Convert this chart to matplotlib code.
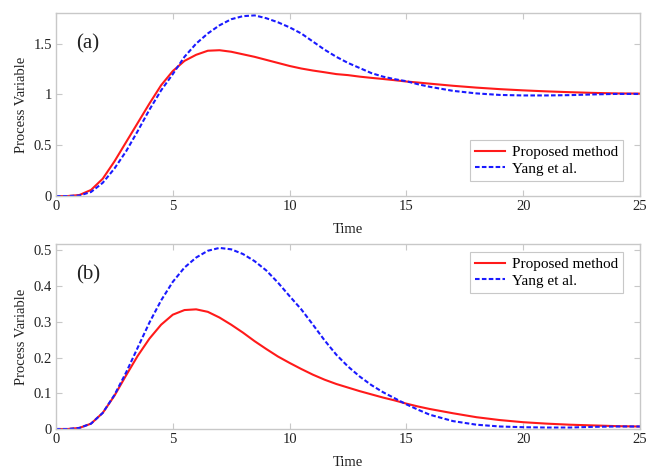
import matplotlib
matplotlib.use('Agg')
import matplotlib.pyplot as plt

plt.rcParams['font.family'] = ['Liberation Serif', 'DejaVu Serif']

# 时间轴（读图取样）
t = [0, 0.5, 1, 1.5, 2, 2.5, 3, 3.5, 4, 4.5, 5, 5.5, 6, 6.5, 7, 7.5, 8, 8.5, 9, 9.5,
     10, 10.5, 11, 11.5, 12, 12.5, 13, 13.5, 14, 14.5, 15, 15.5, 16,
     17, 18, 19, 20, 21, 22, 23, 24, 25]

# (a) 设定值响应
a_proposed = [0, 0, 0.01, 0.06, 0.17, 0.34, 0.53, 0.72, 0.91, 1.09, 1.23, 1.33, 1.39, 1.43, 1.435,
              1.42, 1.395, 1.37, 1.34, 1.31, 1.28, 1.255, 1.235, 1.218, 1.2, 1.19, 1.175, 1.163,
              1.152, 1.14, 1.127, 1.117, 1.106, 1.085, 1.067, 1.052, 1.04, 1.03, 1.022, 1.015,
              1.01, 1.008]
a_yang = [0, 0, 0.005, 0.04, 0.13, 0.27, 0.44, 0.64, 0.85, 1.04, 1.2, 1.37, 1.5, 1.6, 1.68, 1.74,
          1.77, 1.778, 1.75, 1.71, 1.66, 1.6, 1.52, 1.44, 1.37, 1.31, 1.26, 1.21, 1.175, 1.15,
          1.13, 1.1, 1.075, 1.035, 1.01, 0.995, 0.99, 0.99, 0.993, 1.0, 1.005, 1.005]

# (b) 扰动响应
b_proposed = [0, 0, 0.003, 0.015, 0.045, 0.093, 0.15, 0.205, 0.253, 0.292, 0.32, 0.333, 0.335,
              0.328, 0.312, 0.292, 0.27, 0.246, 0.224, 0.203, 0.185, 0.168, 0.152, 0.138, 0.126,
              0.116, 0.106, 0.097, 0.088, 0.08, 0.071, 0.063, 0.056, 0.044, 0.033, 0.025, 0.019,
              0.015, 0.012, 0.01, 0.008, 0.007]
b_yang = [0, 0, 0.003, 0.015, 0.045, 0.095, 0.158, 0.228, 0.298, 0.36, 0.412, 0.452, 0.48, 0.499,
          0.507, 0.503, 0.49, 0.47, 0.444, 0.41, 0.372, 0.335, 0.292, 0.248, 0.208, 0.175, 0.147,
          0.123, 0.103, 0.086, 0.069, 0.054, 0.04, 0.022, 0.012, 0.007, 0.005, 0.004, 0.004,
          0.006, 0.007, 0.007]

edge = '#c8c8c8'

fig = plt.figure(figsize=(6.58, 4.69), dpi=100)
ax1 = fig.add_axes([0.0851, 0.582, 0.8875, 0.390])
ax2 = fig.add_axes([0.0851, 0.0853, 0.8875, 0.3945])

panels = [(ax1, a_proposed, a_yang, '(a)', (0, 1.8), [0, 0.5, 1, 1.5], ['0', '0.5', '1', '1.5'],
           'lower right', (0.971, 0.082)),
          (ax2, b_proposed, b_yang, '(b)', (0, 0.518), [0, 0.1, 0.2, 0.3, 0.4, 0.5],
           ['0', '0.1', '0.2', '0.3', '0.4', '0.5'], 'upper right', (0.971, 0.957))]

for ax, yp, yy, tag, ylim, yt, ytl, loc, anchor in panels:
    ax.plot(t, yp, color='#ff1a1a', lw=1.5, label='Proposed method')
    ax.plot(t, yy, color='#1a1aff', lw=1.5, ls=(0, (2.2, 1.1)), label='Yang et al.')
    ax.set_xlim(0, 25)
    ax.set_ylim(*ylim)
    ax.set_xticks([0, 5, 10, 15, 20, 25])
    ax.set_yticks(yt)
    ax.set_yticklabels(ytl)
    ax.tick_params(direction='in', length=4, color=edge, labelsize=10.5, labelcolor='#222222',
                   top=True, right=True, pad=3)
    for s in ax.spines.values():
        s.set_color(edge)
        s.set_linewidth(1.0)
    ax.set_xlabel('Time', fontsize=10.5, labelpad=7, color='#222222')
    ax.set_ylabel('Process Variable', fontsize=10.5, labelpad=4, color='#222222')
    ax.text(0.035, 0.885, tag, transform=ax.transAxes, fontsize=15, va='top', color='#222222')
    leg = ax.legend(loc=loc, bbox_to_anchor=anchor, fontsize=11, fancybox=False, framealpha=1,
                    borderpad=0.35, labelspacing=0.2, handletextpad=0.4, borderaxespad=0)
    leg.get_frame().set_edgecolor(edge)
    leg.get_frame().set_linewidth(0.8)

fig.savefig('out.png', dpi=100)
